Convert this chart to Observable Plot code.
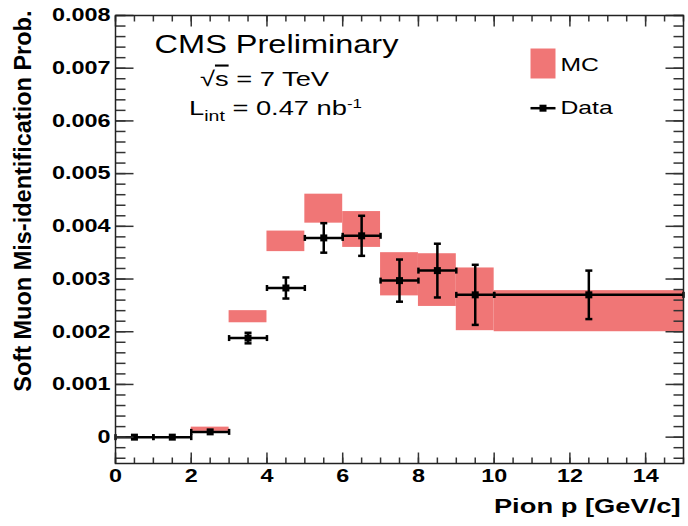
<!DOCTYPE html>
<html>
<head>
<meta charset="utf-8">
<script src="https://cdn.jsdelivr.net/npm/d3@7"></script>
<script src="https://cdn.jsdelivr.net/npm/@observablehq/plot@0.6"></script>
<style>
  html, body { margin: 0; padding: 0; background: white; }
</style>
</head>
<body>
<script>
// ---- data ----
const binLow    = [0, 1, 2, 3, 4, 5, 6, 7, 8, 9, 10];
const binHigh   = [1, 2, 3, 4, 5, 6, 7, 8, 9, 10, 15];
const binCenter = [0.5, 1.5, 2.5, 3.5, 4.5, 5.5, 6.5, 7.5, 8.5, 9.5, 12.5];
const dataValue = [0, 0, 0.0001, 0.00188, 0.00283, 0.00378, 0.00382, 0.00297, 0.00316, 0.0027, 0.0027];
const dataError = [0, 0, 0, 0.0001, 0.0002, 0.00028, 0.00038, 0.0004, 0.00051, 0.00057, 0.00046];
const mcLow     = [0, 0, 0.00011, 0.00217, 0.00352, 0.00406, 0.0036, 0.00268, 0.00248, 0.00202, 0.002];
const mcHigh    = [0, 0, 0.00019, 0.0024, 0.00391, 0.00461, 0.00428, 0.0035, 0.00348, 0.00321, 0.00278];

const xMajorTicks = [0, 2, 4, 6, 8, 10, 12, 14];
const xMinorTicks = d3.range(0, 15.001, 0.5);
const yMajorTicks = [0, 0.001, 0.002, 0.003, 0.004, 0.005, 0.006, 0.007, 0.008];
const yMinorTicks = d3.range(-0.0004, 0.00801, 0.0002);

const mcColor = "#f07676";
const font = "'Liberation Sans', Arial, Helvetica, sans-serif";

// ---- tables ----
const rows = binLow.map((lo, i) => ({
  lo, hi: binHigh[i], c: binCenter[i], v: dataValue[i], e: dataError[i],
  mlo: mcLow[i], mhi: mcHigh[i]
}));
const mcRows = rows.filter(d => d.mhi > d.mlo);
const errRows = rows.filter(d => d.e > 0);

// ---- custom symbols ----
const line = (x0, y0, x1, y1) => ({draw(c) { c.moveTo(x0, y0); c.lineTo(x1, y1); }});
const capH = line(-3.5, 0, 3.5, 0);
const capV = line(0, -3, 0, 3);
const square = {draw(c) { c.rect(-3.5, -3.5, 7, 7); }};
const legendBox = {draw(c) { c.rect(-12.5, -15, 25, 30); }};
const legendLine = line(-12.5, 0, 12.5, 0);

const tickStyle = {stroke: "#333", strokeWidth: 1.5, fill: "none"};

const chart = Plot.plot({
  width: 688,
  height: 526,
  marginLeft: 115,
  marginRight: 5,
  marginTop: 15,
  marginBottom: 63,
  x: {domain: [0, 15]},
  y: {domain: [-0.0005, 0.008]},
  style: {fontFamily: font, background: "white", color: "black", overflow: "visible"},
  marks: [
    // MC bands
    Plot.rect(mcRows, {x1: "lo", x2: "hi", y1: "mlo", y2: "mhi", fill: mcColor}),
    // data error bars
    Plot.ruleY(rows, {y: "v", x1: "lo", x2: "hi", stroke: "black", strokeWidth: 2.5}),
    Plot.ruleX(errRows, {x: "c", y1: d => d.v - d.e, y2: d => d.v + d.e, stroke: "black", strokeWidth: 2.5}),
    Plot.dot(rows, {x: "lo", y: "v", symbol: capV, stroke: "black", strokeWidth: 2.5, fill: "none"}),
    Plot.dot(rows, {x: "hi", y: "v", symbol: capV, stroke: "black", strokeWidth: 2.5, fill: "none"}),
    Plot.dot(errRows, {x: "c", y: d => d.v - d.e, symbol: capH, stroke: "black", strokeWidth: 2.5, fill: "none"}),
    Plot.dot(errRows, {x: "c", y: d => d.v + d.e, symbol: capH, stroke: "black", strokeWidth: 2.5, fill: "none"}),
    Plot.dot(rows, {x: "c", y: "v", symbol: square, fill: "black", stroke: "none"}),

    // inward ticks on four sides
    Plot.dot(xMinorTicks, {x: d => d, frameAnchor: "bottom", symbol: line(0, 0, 0, -6), ...tickStyle}),
    Plot.dot(xMajorTicks, {x: d => d, frameAnchor: "bottom", symbol: line(0, 0, 0, -11), ...tickStyle}),
    Plot.dot(xMinorTicks, {x: d => d, frameAnchor: "top", symbol: line(0, 0, 0, 6), ...tickStyle}),
    Plot.dot(xMajorTicks, {x: d => d, frameAnchor: "top", symbol: line(0, 0, 0, 11), ...tickStyle}),
    Plot.dot(yMinorTicks, {y: d => d, frameAnchor: "left", symbol: line(0, 0, 10, 0), ...tickStyle}),
    Plot.dot(yMajorTicks, {y: d => d, frameAnchor: "left", symbol: line(0, 0, 18, 0), ...tickStyle}),
    Plot.dot(yMinorTicks, {y: d => d, frameAnchor: "right", symbol: line(0, 0, -10, 0), ...tickStyle}),
    Plot.dot(yMajorTicks, {y: d => d, frameAnchor: "right", symbol: line(0, 0, -18, 0), ...tickStyle}),

    Plot.frame({stroke: "#222", strokeWidth: 1.5}),

    // tick labels
    Plot.axisX(xMajorTicks, {tickSize: 0, tickPadding: 6, fontSize: 18, fontWeight: "bold", label: null}),
    Plot.axisY(yMajorTicks, {tickSize: 0, tickPadding: 5, fontSize: 18, fontWeight: "bold", label: null,
      tickFormat: d => d === 0 ? "0" : d3.format(".3f")(d)}),

    // axis titles
    Plot.text(["Pion p [GeV/c]"], {frameAnchor: "bottom-right", textAnchor: "end", lineAnchor: "bottom",
      dx: -3, dy: 49.5, fontSize: 21, fontWeight: "bold"}),
    Plot.text(["Soft Muon Mis-identification Prob."], {frameAnchor: "top-left", textAnchor: "end", lineAnchor: "middle",
      rotate: -90, dx: -92, dy: -5, fontSize: 23.5, fontWeight: "bold"}),

    // annotations
    Plot.text(["CMS Preliminary"], {frameAnchor: "top-left", textAnchor: "middle", lineAnchor: "bottom",
      dx: 161, dy: 37, fontSize: 25}),
    Plot.text(["√s = 7 TeV"], {frameAnchor: "top-left", textAnchor: "middle", lineAnchor: "bottom",
      dx: 149, dy: 70, fontSize: 21}),
    Plot.text(["Lint = 0.47 nb-1"], {frameAnchor: "top-left", textAnchor: "middle", lineAnchor: "bottom",
      dx: 160, dy: 99, fontSize: 21}),

    // legend
    Plot.dot(["MC"], {frameAnchor: "top-left", dx: 427.5, dy: 48, symbol: legendBox, fill: mcColor, stroke: "none"}),
    Plot.text(["MC"], {frameAnchor: "top-left", textAnchor: "start", lineAnchor: "bottom", dx: 445, dy: 55, fontSize: 19}),
    Plot.dot(["Data"], {frameAnchor: "top-left", dx: 427.5, dy: 92.7, symbol: legendLine, stroke: "black", strokeWidth: 2.5, fill: "none"}),
    Plot.dot(["Data"], {frameAnchor: "top-left", dx: 427.5, dy: 92.7, symbol: square, fill: "black", stroke: "none"}),
    Plot.text(["Data"], {frameAnchor: "top-left", textAnchor: "start", lineAnchor: "bottom", dx: 445, dy: 98, fontSize: 19})
  ]
});

document.body.append(chart);

// subscript / superscript for the luminosity label
d3.select(chart).selectAll("text").filter(function() { return this.textContent === "Lint = 0.47 nb-1"; })
  .each(function() {
    const t = d3.select(this);
    t.text(null);
    t.append("tspan").text("L");
    t.append("tspan").attr("dy", 6).attr("font-size", 15).text("int");
    t.append("tspan").attr("dy", -6).text(" = 0.47 nb");
    t.append("tspan").attr("dy", -7).attr("font-size", 13).text("-1");
  });

// radical bar over "s"
d3.select(chart).selectAll("text").filter(function() { return this.textContent === "√s = 7 TeV"; })
  .each(function() {
    const t = d3.select(this);
    t.text(null);
    t.append("tspan").text("√");
    t.append("tspan").style("text-decoration", "overline").text("s");
    t.append("tspan").text(" = 7 TeV");
  });

// the reference is stretched horizontally: widen horizontal texts
chart.querySelectorAll("text").forEach(t => {
  const tr = t.getAttribute("transform") || "";
  if (tr.includes("rotate")) return;
  const w = t.getComputedTextLength();
  if (w > 0) {
    t.setAttribute("textLength", (w * 1.3).toFixed(1));
    t.setAttribute("lengthAdjust", "spacingAndGlyphs");
  }
});
</script>
</body>
</html>
